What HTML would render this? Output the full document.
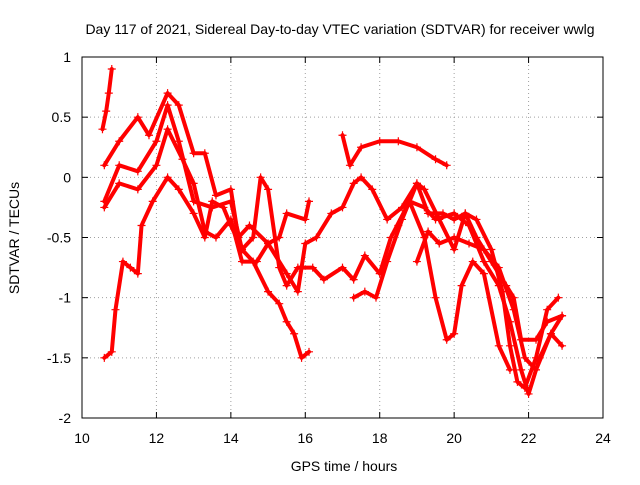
<!DOCTYPE html>
<html><head><meta charset="utf-8"><style>
body{margin:0;background:#fff}
svg text{font-family:"Liberation Sans",sans-serif;font-size:14px;fill:#000}
</style></head><body>
<svg id="chart" width="640" height="480">
<text x="340" y="34" text-anchor="middle">Day 117 of 2021, Sidereal Day-to-day VTEC variation (SDTVAR) for receiver wwlg</text>
<text x="344" y="471" text-anchor="middle">GPS time / hours</text>
<text transform="translate(19,238) rotate(-90)" text-anchor="middle">SDTVAR / TECUs</text>
<g id="grid"></g><g id="series"></g>
<rect x="82" y="57" width="521" height="361" fill="none" stroke="#000"/>
</svg>
<script>
const xTicks=[10,12,14,16,18,20,22,24];
const yTicks=[1,0.5,0,-0.5,-1,-1.5,-2];
const yTickLabels=["1","0.5","0","-0.5","-1","-1.5","-2"];
const trace1=[[10.55,0.4],[10.65,0.55],[10.72,0.7],[10.8,0.9]];
const trace2=[[10.6,0.1],[11,0.3],[11.5,0.5],[11.8,0.35],[12.3,0.7],[12.6,0.6],[13,0.2],[13.3,0.2],[13.6,-0.15],[14,-0.1],[14.2,-0.5],[14.5,-0.4],[15,-0.55],[15.3,-0.5],[15.5,-0.3],[16,-0.35],[16.1,-0.2]];
const trace3=[[10.6,-0.2],[11,0.1],[11.5,0.05],[12,0.3],[12.3,0.6],[12.6,0.3],[13,-0.2],[13.5,-0.25],[14,-0.2],[14.3,-0.6],[14.6,-0.5],[14.8,0],[15,-0.1],[15.3,-0.75],[15.5,-0.9],[15.8,-0.75],[16.2,-0.75],[16.5,-0.85],[17,-0.75],[17.3,-0.85],[17.6,-0.65],[18,-0.8],[18.3,-0.5],[18.8,-0.2],[19.2,-0.25],[19.5,-0.35],[20,-0.3],[20.4,-0.4],[20.8,-0.7],[21.2,-0.9],[21.5,-1.2],[21.8,-1.6],[22,-1.8],[22.3,-1.5],[22.6,-1.3],[22.9,-1.15]];
const trace4=[[10.6,-1.5],[10.8,-1.45],[10.9,-1.1],[11.1,-0.7],[11.3,-0.75],[11.5,-0.8],[11.6,-0.4],[11.9,-0.2],[12.3,0],[12.6,-0.1],[13,-0.3],[13.3,-0.5],[13.5,-0.2],[13.8,-0.25],[14,-0.4],[14.3,-0.6],[14.6,-0.7],[15,-0.95],[15.3,-1.05],[15.5,-1.2],[15.7,-1.3],[15.9,-1.5],[16.1,-1.45]];
const trace5=[[10.6,-0.25],[11,-0.05],[11.5,-0.1],[12,0.1],[12.3,0.4],[12.7,0.15],[13,-0.05],[13.3,-0.45],[13.6,-0.5],[14,-0.35],[14.3,-0.7],[14.7,-0.7],[15,-0.55],[15.5,-0.8],[15.8,-0.95],[16,-0.55],[16.3,-0.5],[16.7,-0.3],[17,-0.25],[17.3,-0.05],[17.5,0],[17.8,-0.1],[18.2,-0.35],[18.6,-0.25],[19,-0.05],[19.3,-0.3],[19.7,-0.3],[20,-0.35],[20.3,-0.3],[20.6,-0.5],[21,-0.7],[21.4,-0.9],[21.6,-1.0],[21.8,-1.35],[22.2,-1.35],[22.5,-1.2],[22.9,-1.15]];
const trace6=[[17,0.35],[17.2,0.1],[17.5,0.25],[18,0.3],[18.5,0.3],[19,0.25],[19.5,0.15],[19.8,0.1]];
const trace7=[[17.3,-1.0],[17.6,-0.95],[17.9,-1.0],[18.2,-0.7],[18.6,-0.35],[19,-0.05],[19.2,-0.1],[19.6,-0.35],[20,-0.6],[20.3,-0.3],[20.6,-0.35],[21,-0.6],[21.3,-0.95],[21.5,-1.4],[21.7,-1.7],[21.9,-1.75],[22.2,-1.5],[22.5,-1.1],[22.8,-1.0]];
const trace8=[[19,-0.7],[19.3,-0.45],[19.6,-0.55],[20,-0.5],[20.4,-0.55],[20.8,-0.6],[21.2,-0.75],[21.6,-1.1],[21.9,-1.5],[22.2,-1.6],[22.6,-1.3],[22.9,-1.4]];
const trace9=[[18.5,-0.4],[18.8,-0.2],[19.2,-0.5],[19.5,-1.0],[19.8,-1.35],[20,-1.3],[20.2,-0.9],[20.5,-0.7],[20.8,-0.8],[21.2,-1.4],[21.5,-1.6]];
const traces=[trace1,trace2,trace3,trace4,trace5,trace6,trace7,trace8,trace9];
const X=h=>82+(h-10)*(521/14), Y=v=>57+(1-v)*(361/3);
const NS="http://www.w3.org/2000/svg";
const g=document.getElementById('grid'), s=document.getElementById('series');
function mk(tag,at,p){const e=document.createElementNS(NS,tag);for(const k in at)e.setAttribute(k,at[k]);p.appendChild(e);return e;}
xTicks.forEach(t=>{const x=X(t);
 if(t>10&&t<24){const l=mk('line',{x1:x,x2:x,y1:57,y2:418,stroke:'#a0a0a0','stroke-dasharray':'1,3'},g);
 
 }
 mk('line',{x1:x,x2:x,y1:418,y2:412,stroke:'#000'},g);mk('line',{x1:x,x2:x,y1:57,y2:63,stroke:'#000'},g);
 const tx=mk('text',{x:x,y:443,'text-anchor':'middle'},g);tx.textContent=t;
 
 });
yTicks.forEach((t,i)=>{const y=Y(t);
 if(t<1&&t>-2){const l=mk('line',{x1:82,x2:603,y1:y,y2:y,stroke:'#a0a0a0','stroke-dasharray':'1,3'},g);
 
 }
 mk('line',{x1:82,x2:88,y1:y,y2:y,stroke:'#000'},g);mk('line',{x1:603,x2:597,y1:y,y2:y,stroke:'#000'},g);
 const tx=mk('text',{x:71,y:y+5,'text-anchor':'end'},g);tx.textContent=yTickLabels[i];
 
 });
traces.forEach((tr,i)=>{
 const pl=mk('polyline',{points:tr.map(p=>X(p[0])+','+Y(p[1])).join(' '),fill:'none',stroke:'#f00','stroke-width':4,'stroke-linejoin':'round','stroke-linecap':'round'},s);
 
 
 tr.forEach(p=>{const x=X(p[0]),y=Y(p[1]);
  const m=mk('path',{d:`M${x-4},${y}H${x+4}M${x},${y-4}V${y+4}`,stroke:'#f00','stroke-width':1.2},s);
  
  });
});
</script>
</body></html>
